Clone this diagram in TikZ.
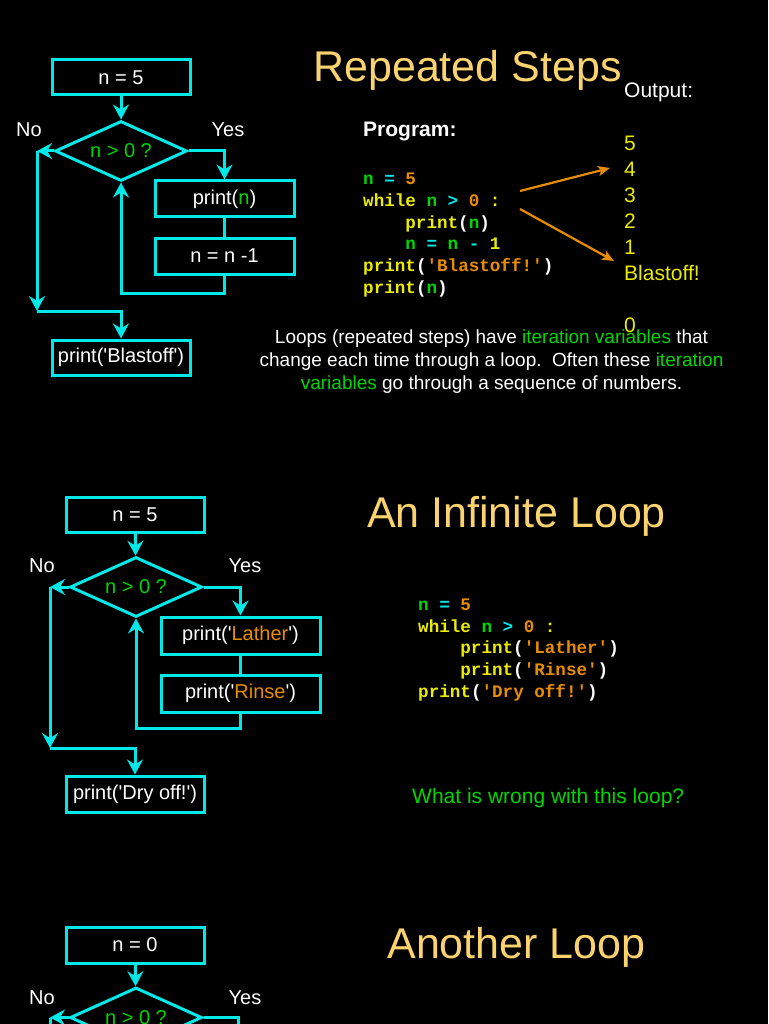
\documentclass[tikz,border=0pt]{standalone}
\usepackage{fontspec}
\setmainfont{Liberation Sans}
\setmonofont{Liberation Mono}
\usepackage{tikz}
\usetikzlibrary{arrows.meta,positioning,shapes.geometric,calc}
\definecolor{slCyan}{RGB}{0,232,232}
\definecolor{slGold}{RGB}{250,210,110}
\definecolor{slGreen}{RGB}{0,214,0}
\definecolor{slYellow}{RGB}{236,236,0}
\definecolor{slOrange}{RGB}{232,140,0}
\newcommand{\sqt}{\textquotesingle}
\newcommand{\cgn}[1]{\textcolor{slGreen}{#1}}
\newcommand{\ccy}[1]{\textcolor{slCyan}{#1}}
\newcommand{\cyl}[1]{\textcolor{slYellow}{#1}}
\newcommand{\cor}[1]{\textcolor{slOrange}{#1}}
\newcommand{\cwh}[1]{\textcolor{white}{#1}}
\newcommand{\ind}{\hspace*{42.2pt}}
\tikzset{
  fbox/.style    ={draw=slCyan,line width=3pt,text=white,inner sep=0pt,
                   minimum width=138pt,minimum height=35pt,
                   font=\fontsize{20}{24}\selectfont},
  wbox/.style    ={fbox,minimum width=159pt,minimum height=37pt},
  test/.style    ={diamond,aspect=2.2,draw=slCyan,line width=3pt,inner sep=0pt,
                   minimum width=132pt,minimum height=60pt,text=slGreen,
                   font=\fontsize{20}{24}\selectfont},
  flow/.style    ={-{Stealth[length=15pt,width=16pt,inset=5pt]},slCyan,line width=3pt},
  link/.style    ={slCyan,line width=3pt},
  hint/.style    ={-{Stealth[length=12pt,width=10pt,inset=3pt]},slOrange,line width=2.2pt},
  yn/.style      ={text=white,font=\fontsize{20}{24}\selectfont,inner sep=0pt},
  title/.style   ={text=slGold,font=\fontsize{43}{48}\selectfont,inner sep=0pt,anchor=base},
  code/.style    ={align=left,inner sep=0pt,font=\ttfamily\bfseries\fontsize{17.6}{21.6}\selectfont},
  lbl/.style     ={text=white,font=\fontsize{21}{26}\selectfont,inner sep=0pt},
}

\begin{document}
\begin{tikzpicture}[x={(1pt,0)},y={(0,-1pt)}]
\path[use as bounding box,fill=black] (0,0) rectangle (768,1024);
\clip (0,0) rectangle (768,1024);

%% first slide: repeated steps
\node[fbox] (s1init) at (121,77.5) {n = 5};
\node[test] (s1test) at (121,151) {n > 0 ?};
\node[fbox,minimum width=139pt,minimum height=36pt] (s1print) at (224.5,199) {print(\cgn{n})};
\node[fbox,minimum width=139pt,minimum height=36pt] (s1dec) at (224.5,256) {n = n -1};
\node[fbox] (s1done) at (121,357.5) {print(\sqt Blastoff\sqt)};
\node[yn] (s1no) at (29,130) {No};
\node[yn] (s1yes) at (228,130) {Yes};
\coordinate (s1left) at (37,151);
\coordinate (s1low) at (37,311);
\draw[flow] (s1init) -- (s1test);
\draw[flow] (s1test.east) -| (s1print.north);
\draw[link] (s1print) -- (s1dec);
\draw[flow] (s1dec.south) -- ++(0,18) -| (s1test.south);
\draw[flow] (s1test.west) -- (s1left);
\draw[flow] (s1left) -- (s1low);
\draw[flow] (s1low) -| (s1done.north);

\node[title] (s1title) at (467.5,82) {Repeated Steps};
\node[lbl,anchor=base west] (s1outlbl) at (624,98) {Output:};
\node[lbl,anchor=base west,font=\bfseries\fontsize{21}{26}\selectfont] (s1prog) at (363,137) {Program:};
%% multi-line nodes: base is the last line
\node[code,anchor=base west] (s1code) at (363,293)
  {\cgn{n} \ccy{=} \cor{5}\\
   \cyl{while} \cgn{n} \ccy{>} \cor{0} \cyl{:}\\
   \ind\cyl{print}\cwh{(}\cgn{n}\cwh{)}\\
   \ind\cgn{n} \ccy{=} \cgn{n} \ccy{-} \cyl{1}\\
   \cyl{print}\cwh{(}\cor{\sqt Blastoff!\sqt}\cwh{)}\\
   \cyl{print}\cwh{(}\cgn{n}\cwh{)}};
\node[lbl,text=slYellow,align=left,anchor=base west] (s1out) at (624,332)
  {5\\4\\3\\2\\1\\Blastoff!\\[26pt]0};
\coordinate (s1fromA) at (520,191);
\coordinate (s1toA) at (610,168);
\coordinate (s1fromB) at (520,209);
\coordinate (s1toB) at (614,261);
\draw[hint] (s1fromA) -- (s1toA);
\draw[hint] (s1fromB) -- (s1toB);
\node[lbl,align=center,anchor=base,font=\fontsize{19}{23}\selectfont] (s1note) at (491.5,389)
  {Loops (repeated steps) have \cgn{iteration variables} that\\
   change each time through a loop.\ \ Often these \cgn{iteration}\\
   \cgn{variables} go through a sequence of numbers.};

%% second slide: an infinite loop
\node[fbox] (s2init) at (135,514.5) {n = 5};
\node[test] (s2test) at (136,587) {n > 0 ?};
\node[wbox] (s2lather) at (240.5,635.5) {print(\sqt\cor{Lather}\sqt)};
\node[wbox] (s2rinse) at (240.5,693.5) {print(\sqt\cor{Rinse}\sqt)};
\node[fbox,minimum height=36pt] (s2done) at (135,794) {print(\sqt Dry off!\sqt)};
\node[yn] (s2no) at (42,566) {No};
\node[yn] (s2yes) at (245,566) {Yes};
\coordinate (s2left) at (50,587);
\coordinate (s2low) at (50,748);
\draw[flow] (s2init) -- (s2test);
\draw[flow] (s2test.east) -| (s2lather.north);
\draw[link] (s2lather) -- (s2rinse);
\draw[flow] (s2rinse.south) -- ++(0,15) -| (s2test.south);
\draw[flow] (s2test.west) -- (s2left);
\draw[flow] (s2left) -- (s2low);
\draw[flow] (s2low) -| (s2done.north);

\node[title] (s2title) at (516.5,527) {An Infinite Loop};
\node[code,anchor=base west] (s2code) at (418,697)
  {\cgn{n} \ccy{=} \cor{5}\\
   \cyl{while} \cgn{n} \ccy{>} \cor{0} \cyl{:}\\
   \ind\cyl{print}\cwh{(}\cor{\sqt Lather\sqt}\cwh{)}\\
   \ind\cyl{print}\cwh{(}\cor{\sqt Rinse\sqt}\cwh{)}\\
   \cyl{print}\cwh{(}\cor{\sqt Dry off!\sqt}\cwh{)}};
\node[lbl,text=slGreen,anchor=base west] (s2ask) at (412,803) {What is wrong with this loop?};

%% third slide: another loop (cut by the page)
\node[fbox,minimum height=36pt] (s3init) at (135,945) {n = 0};
\node[test] (s3test) at (136,1017.5) {n > 0 ?};
\node[yn] (s3no) at (42,998) {No};
\node[yn] (s3yes) at (245,998) {Yes};
\coordinate (s3left) at (50,1017.5);
\coordinate (s3low) at (50,1060);
\coordinate (s3right) at (238,1060);
\draw[flow] (s3init) -- (s3test);
\draw[link] (s3test.east) -| (s3right);
\draw[flow] (s3test.west) -- (s3left);
\draw[link] (s3left) -- (s3low);
\node[title] (s3title) at (516.5,958) {Another Loop};
\end{tikzpicture}
\end{document}
